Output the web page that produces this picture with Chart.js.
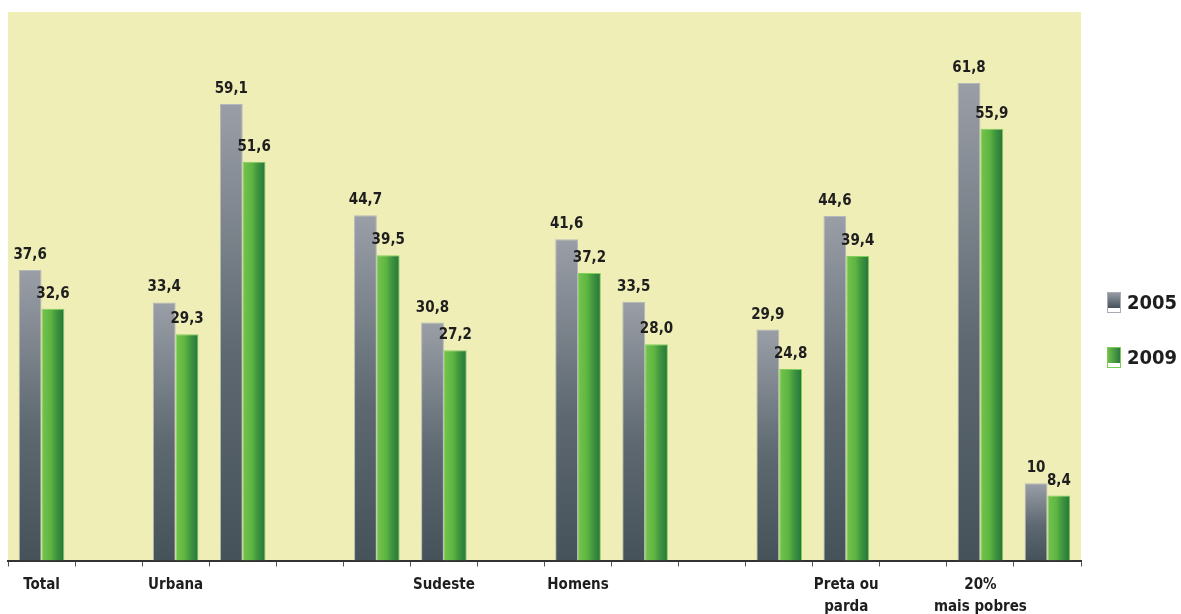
<!DOCTYPE html>
<html>
<head>
<meta charset="utf-8">
<script src="https://cdn.jsdelivr.net/npm/chart.js@4.4.1/dist/chart.umd.min.js"></script>
<style>
  html, body { margin: 0; padding: 0; background: #fff; }
  #wrap { width: 1181px; height: 614px; position: relative; }
</style>
</head>
<body>
<div id="wrap"><canvas id="chart"></canvas></div>
<script>
// --- Data ---
const categories = [
    'Total', '', 'Urbana', '', '', '', 'Sudeste', '', 'Homens', '', '', '',
    ['Preta ou', 'parda'], '', ['20%', 'mais pobres'], ''
];
const values2005 = [37.6, null, 33.4, 59.1, null, 44.7, 30.8, null, 41.6, 33.5, null, 29.9, 44.6, null, 61.8, 10];
const values2009 = [32.6, null, 29.3, 51.6, null, 39.5, 27.2, null, 37.2, 28.0, null, 24.8, 39.4, null, 55.9, 8.4];
const seriesLabels = ['2005', '2009'];

const FONT = '"DejaVu Sans Condensed", "DejaVu Sans", Verdana, sans-serif';
const CAT_PCT = 0.68;

// value label format: 28 -> "28,0", 10 -> "10"
const fmt = v => (Number.isInteger(v) && v % 10 === 0) ? String(v) : v.toFixed(1).replace('.', ',');

// bar geometry helper (scales are laid out before element options resolve)
function barBox(ctx) {
    const chart = ctx.chart;
    const x = chart.scales.x, y = chart.scales.y;
    if (!x || !y || !chart.chartArea) return null;
    const cw = x.width / categories.length * CAT_PCT / 2;
    const cx = x.getPixelForValue(ctx.dataIndex);
    const left = ctx.datasetIndex === 0 ? cx - cw : cx;
    const v = ctx.raw == null ? 0 : ctx.raw;
    return { left, right: left + cw, top: y.getPixelForValue(v), bottom: y.getPixelForValue(0) };
}

function grayFill(ctx) {
    const b = barBox(ctx);
    if (!b) return '#7a8088';
    const g = ctx.chart.ctx.createLinearGradient(0, b.top, 0, b.bottom);
    g.addColorStop(0, '#9a9ea7');
    g.addColorStop(0.55, '#5d6870');
    g.addColorStop(1, '#46525a');
    return g;
}

function greenFill(ctx) {
    const b = barBox(ctx);
    if (!b) return '#4fa040';
    const g = ctx.chart.ctx.createLinearGradient(b.left, 0, b.right, 0);
    g.addColorStop(0, '#74c44c');
    g.addColorStop(0.4, '#5fb542');
    g.addColorStop(0.65, '#3f963e');
    g.addColorStop(1, '#26733c');
    return g;
}

// plot background
const plotBg = {
    id: 'plotBg',
    beforeDraw(chart) {
        const { ctx, chartArea: a } = chart;
        ctx.save();
        ctx.fillStyle = '#efeeb6';
        ctx.fillRect(a.left, a.top, a.right - a.left, a.bottom - a.top);
        ctx.restore();
    }
};

// value labels above bars
const valueLabels = {
    id: 'valueLabels',
    afterDatasetsDraw(chart) {
        const ctx = chart.ctx;
        ctx.save();
        ctx.font = 'bold 15px ' + FONT;
        ctx.fillStyle = '#1e1e1e';
        ctx.textAlign = 'center';
        ctx.textBaseline = 'alphabetic';
        chart.data.datasets.forEach((ds, i) => {
            chart.getDatasetMeta(i).data.forEach((bar, j) => {
                const v = ds.data[j];
                if (v == null) return;
                ctx.fillText(fmt(v), bar.x, bar.y - 11);
            });
        });
        ctx.restore();
    }
};

// legend on the right
const sideLegend = {
    id: 'sideLegend',
    afterDraw(chart) {
        const ctx = chart.ctx;
        const rows = [303, 358];
        ctx.save();
        chart.data.datasets.forEach((ds, i) => {
            const y = rows[i];
            const x = 1107;
            const h = 21, w = 14;
            let g;
            if (i === 0) {
                g = ctx.createLinearGradient(0, y - 11, 0, y + 5);
                g.addColorStop(0, '#9a9ea7');
                g.addColorStop(1, '#46525a');
            } else {
                g = ctx.createLinearGradient(x, 0, x + w, 0);
                g.addColorStop(0, '#74c44c');
                g.addColorStop(1, '#26733c');
            }
            ctx.fillStyle = g;
            ctx.fillRect(x, y - 11, w, 16);
            ctx.fillStyle = '#ffffff';
            ctx.fillRect(x + 1, y + 5, w - 2, 4);
            ctx.strokeStyle = i === 0 ? '#a8acb2' : '#7ccc54';
            ctx.lineWidth = 1;
            ctx.strokeRect(x + 0.5, y - 10.5, w - 1, h - 1);
            ctx.font = 'bold 20px ' + FONT;
            ctx.fillStyle = '#1e1e1e';
            ctx.textAlign = 'left';
            ctx.textBaseline = 'middle';
            ctx.fillText(ds.label, 1127, y + 0.5);
        });
        ctx.restore();
    }
};

const chart = new Chart(document.getElementById('chart'), {
    type: 'bar',
    data: {
        labels: categories,
        datasets: [
            {
                label: seriesLabels[0],
                data: values2005,
                backgroundColor: grayFill,
                borderColor: '#b4b7bc',
                borderWidth: { top: 1, left: 1, right: 1, bottom: 0 }
            },
            {
                label: seriesLabels[1],
                data: values2009,
                backgroundColor: greenFill,
                borderColor: '#80d058',
                borderWidth: { top: 1, left: 1, right: 1, bottom: 0 }
            }
        ]
    },
    options: {
        responsive: true,
        maintainAspectRatio: false,
        animation: false,
        datasets: {
            bar: { categoryPercentage: CAT_PCT, barPercentage: 1 }
        },
        layout: { padding: { left: 8, top: 12, right: 100, bottom: 0 } },
        scales: {
            x: {
                offset: true,
                afterFit: (scale) => { scale.height = 53.5; },
                grid: {
                    offset: true,
                    drawOnChartArea: false,
                    drawTicks: true,
                    tickLength: 6,
                    color: '#555555',
                    lineWidth: 1
                },
                border: { display: true, color: '#333333', width: 2 },
                ticks: {
                    autoSkip: false,
                    maxRotation: 0,
                    padding: 7,
                    color: '#1e1e1e',
                    font: { family: FONT, size: 15, weight: 'bold', lineHeight: 1.5 }
                }
            },
            y: {
                display: false,
                min: 0,
                max: 71
            }
        },
        plugins: {
            legend: { display: false },
            tooltip: { enabled: false }
        }
    },
    plugins: [plotBg, valueLabels, sideLegend]
});
</script>
</body>
</html>
